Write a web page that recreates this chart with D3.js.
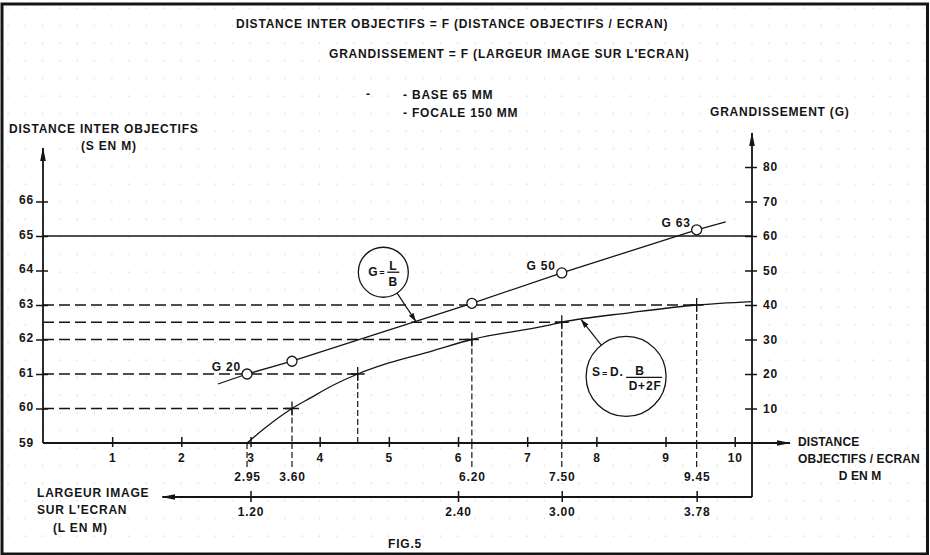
<!DOCTYPE html>
<html>
<head>
<meta charset="utf-8">
<script src="https://cdn.jsdelivr.net/npm/d3@7"></script>
<style>
  body { margin: 0; background: #fff; }
  svg text {
    font-family: "Liberation Sans", Arial, sans-serif;
    font-weight: bold;
    font-size: 12px;
    fill: #151515;
    letter-spacing: 0.8px;
  }
  svg text.tight { letter-spacing: 0.1px; }
</style>
</head>
<body>
<div id="chart"></div>
<script>
// axes
const distanceTicks = [1, 2, 3, 4, 5, 6, 7, 8, 9, 10];
const spacingTicks = [60, 61, 62, 63, 64, 65, 66];
const magnificationTicks = [10, 20, 30, 40, 50, 60, 70, 80];
const widthTicks = [1.20, 2.40, 3.00, 3.78];
const markedDistances = [2.95, 3.60, 6.20, 7.50, 9.45];

// S = f(D)
const spacingCurveD = [2.95, 3.20, 3.60, 3.86, 4.20, 4.55, 5.00, 5.60, 6.20, 7.28, 7.50, 8.50, 9.45, 10.25];
const spacingCurveS = [59.00, 59.42, 60.00, 60.30, 60.68, 61.00, 61.32, 61.65, 62.00, 62.40, 62.50, 62.78, 63.00, 63.10];

// G = f(D), straight line
const magnifLineD = [2.53, 2.95, 3.60, 6.20, 7.50, 9.45, 9.87];
const magnifLineG = [17.1, 20.0, 23.7, 40.5, 49.3, 61.8, 64.1];
const magnifPointD = [2.95, 3.60, 6.20, 7.50, 9.45];
const magnifPointG = [20.0, 23.7, 40.5, 49.3, 61.8];
const magnifPointLabels = ['G 20', '', '', 'G 50', 'G 63'];

// construction lines: S level and where it meets the curve
const guideS = [60, 61, 62, 62.5, 63];
const guideD = [3.60, 4.55, 6.20, 7.50, 9.45];

const width = 930;
const height = 555;

const svg = d3
  .select('#chart')
  .append('svg')
  .attr('width', width)
  .attr('height', height);

const defs = svg.append('defs');

defs.append('marker')
  .attr('id', 'arrow')
  .attr('markerUnits', 'userSpaceOnUse')
  .attr('markerWidth', 14)
  .attr('markerHeight', 8)
  .attr('refX', 13)
  .attr('refY', 4)
  .attr('orient', 'auto')
  .append('path')
  .attr('d', 'M0,1.2 L14,4 L0,6.8 Z')
  .attr('fill', '#151515');

defs.append('marker')
  .attr('id', 'small-arrow')
  .attr('markerUnits', 'userSpaceOnUse')
  .attr('markerWidth', 9)
  .attr('markerHeight', 7)
  .attr('refX', 8.5)
  .attr('refY', 3.5)
  .attr('orient', 'auto')
  .append('path')
  .attr('d', 'M0,0.8 L9,3.5 L0,6.2 Z')
  .attr('fill', '#151515');

// faint graph paper showing through the scan
const paper = defs.append('pattern')
  .attr('id', 'paper')
  .attr('patternUnits', 'userSpaceOnUse')
  .attr('width', 17.3)
  .attr('height', 17.6);
paper.append('circle')
  .attr('cx', 8)
  .attr('cy', 8)
  .attr('r', 0.7)
  .attr('fill', '#cfcfcf');

svg.append('rect')
  .attr('width', width)
  .attr('height', height)
  .attr('fill', '#fff');
svg.append('rect')
  .attr('width', width)
  .attr('height', height)
  .attr('fill', 'url(#paper)');

// frame
svg.append('rect')
  .attr('x', 2)
  .attr('y', 4)
  .attr('width', 925.5)
  .attr('height', 550)
  .attr('fill', 'none')
  .attr('stroke', '#151515')
  .attr('stroke-width', 3);

// scales
const x = d3.scaleLinear().domain([0, 10.25]).range([43, 752]);
const y = d3.scaleLinear().domain([59, 67]).range([443, 167]);
const g = d3.scaleLinear().domain([0, 80]).range([443, 167]);
const l = d3.scaleLinear().domain([0, 10.25 / 2.5]).range([43, 752]);

const ink = '#151515';
const xAxisY = y(59);
const lAxisY = 497;

// Axis lines with arrows
svg.append('line')
  .attr('x1', x(0)).attr('y1', xAxisY)
  .attr('x2', x(0)).attr('y2', 148)
  .attr('stroke', ink).attr('stroke-width', 1.8)
  .attr('marker-end', 'url(#arrow)');

svg.append('line')
  .attr('x1', x(10.25)).attr('y1', lAxisY)
  .attr('x2', x(10.25)).attr('y2', 133)
  .attr('stroke', ink).attr('stroke-width', 1.8)
  .attr('marker-end', 'url(#arrow)');

svg.append('line')
  .attr('x1', x(0)).attr('y1', xAxisY)
  .attr('x2', 790).attr('y2', xAxisY)
  .attr('stroke', ink).attr('stroke-width', 1.8)
  .attr('marker-end', 'url(#arrow)');

svg.append('line')
  .attr('x1', x(10.25)).attr('y1', lAxisY)
  .attr('x2', l(0.69)).attr('y2', lAxisY)
  .attr('stroke', ink).attr('stroke-width', 1.8)
  .attr('marker-end', 'url(#arrow)');

const styleTicks = sel => {
  sel.select('.domain').remove();
  sel.selectAll('line').attr('stroke', ink).attr('stroke-width', 1.5);
  sel.selectAll('text').attr('fill', ink).attr('font-family', null).attr('font-size', null);
};

// Left axis : S
const sAxis = svg.append('g')
  .attr('transform', `translate(${x(0)},0)`)
  .call(d3.axisLeft(y).tickValues(spacingTicks).tickSize(7).tickPadding(2));
styleTicks(sAxis);
sAxis.selectAll('line').attr('x1', 5);
sAxis.selectAll('text').attr('dy', '0.2em');

svg.append('text')
  .attr('x', x(0) - 9)
  .attr('y', xAxisY + 4)
  .attr('text-anchor', 'end')
  .text('59');

// Right axis : G
const gAxis = svg.append('g')
  .attr('transform', `translate(${x(10.25)},0)`)
  .call(d3.axisRight(g).tickValues(magnificationTicks).tickSize(5).tickPadding(6));
styleTicks(gAxis);
gAxis.selectAll('line').attr('x1', -7);

// Bottom axis : D
const dAxis = svg.append('g')
  .attr('transform', `translate(0,${xAxisY})`)
  .call(d3.axisBottom(x).tickValues(distanceTicks).tickSize(4).tickPadding(6));
styleTicks(dAxis);
dAxis.selectAll('line').attr('y1', -6);

const markAxis = svg.append('g')
  .attr('transform', `translate(0,${xAxisY})`)
  .call(d3.axisBottom(x).tickValues(markedDistances).tickFormat(d3.format('.2f')).tickSize(0).tickPadding(29));
styleTicks(markAxis);

// L axis
const lAxis = svg.append('g')
  .attr('transform', `translate(0,${lAxisY})`)
  .call(d3.axisBottom(l).tickValues(widthTicks).tickFormat(d3.format('.2f')).tickSize(5).tickPadding(5));
styleTicks(lAxis);
lAxis.selectAll('line').attr('y1', -6);

// S = 65 line (G = 60)
svg.append('line')
  .attr('x1', x(0)).attr('y1', y(65))
  .attr('x2', x(10.25)).attr('y2', y(65))
  .attr('stroke', ink).attr('stroke-width', 1.4);

// dashed construction lines
guideS.forEach((s, i) => {
  svg.append('line')
    .attr('x1', x(0)).attr('y1', y(s))
    .attr('x2', x(guideD[i])).attr('y2', y(s))
    .attr('stroke', ink).attr('stroke-width', 1.4)
    .attr('stroke-dasharray', '11,5');
  svg.append('line')
    .attr('x1', x(guideD[i])).attr('y1', y(s))
    .attr('x2', x(guideD[i])).attr('y2', xAxisY)
    .attr('stroke', ink).attr('stroke-width', 1.2)
    .attr('stroke-dasharray', '6,3');
  // cross
  svg.append('path')
    .attr('d', `M${x(guideD[i]) - 7},${y(s)}h14M${x(guideD[i])},${y(s) - 7}v14`)
    .attr('stroke', ink).attr('stroke-width', 1.3);
});

markedDistances.forEach(d => {
  svg.append('line')
    .attr('x1', x(d)).attr('y1', xAxisY)
    .attr('x2', x(d)).attr('y2', xAxisY + 24)
    .attr('stroke', ink).attr('stroke-width', 1.2)
    .attr('stroke-dasharray', '6,3');
});

// S curve
const spacingLine = d3.line()
  .x(d => x(d[0]))
  .y(d => y(d[1]))
  .curve(d3.curveMonotoneX);

svg.append('path')
  .datum(d3.zip(spacingCurveD, spacingCurveS))
  .attr('d', spacingLine)
  .attr('fill', 'none')
  .attr('stroke', ink)
  .attr('stroke-width', 1.3);

// G line
const magnifLine = d3.line()
  .x(d => x(d[0]))
  .y(d => g(d[1]));

svg.append('path')
  .datum(d3.zip(magnifLineD, magnifLineG))
  .attr('d', magnifLine)
  .attr('fill', 'none')
  .attr('stroke', ink)
  .attr('stroke-width', 1.3);

svg.selectAll('circle.gpoint')
  .data(d3.zip(magnifPointD, magnifPointG))
  .enter()
  .append('circle')
  .attr('class', 'gpoint')
  .attr('cx', d => x(d[0]))
  .attr('cy', d => g(d[1]))
  .attr('r', 5)
  .attr('fill', '#fff')
  .attr('stroke', ink)
  .attr('stroke-width', 1.3);

svg.selectAll('text.glabel')
  .data(d3.zip(magnifPointD, magnifPointG, magnifPointLabels).filter(d => d[2]))
  .enter()
  .append('text')
  .attr('class', 'glabel')
  .attr('x', d => x(d[0]) - 6)
  .attr('y', d => g(d[1]) - 3)
  .attr('text-anchor', 'end')
  .text(d => d[2]);

// formula bubbles
const gAt = d3.scaleLinear().domain(magnifLineD).range(magnifLineG);
const sAt = d3.scaleLinear().domain(spacingCurveD).range(spacingCurveS);

const bubble = (cxD, cyS, r, targetX, targetY) => {
  const cx = x(cxD);
  const cy = y(cyS);
  const dx = targetX - cx;
  const dy = targetY - cy;
  const len = Math.sqrt(dx * dx + dy * dy);
  svg.append('circle')
    .attr('cx', cx).attr('cy', cy).attr('r', r)
    .attr('fill', 'none').attr('stroke', ink).attr('stroke-width', 1.3);
  svg.append('line')
    .attr('x1', cx + dx / len * r).attr('y1', cy + dy / len * r)
    .attr('x2', targetX).attr('y2', targetY)
    .attr('stroke', ink).attr('stroke-width', 1.2)
    .attr('marker-end', 'url(#small-arrow)');
  return svg.append('g').attr('transform', `translate(${cx},${cy})`);
};

const gNote = bubble(4.92, 63.95, 25, x(5.39), g(gAt(5.39)));
gNote.append('text').attr('x', -15).attr('y', 4).text('G');
gNote.append('text').attr('x', -4).attr('y', 4).style('font-size', '9px').text('=');
gNote.append('text').attr('x', 10).attr('y', -2).attr('text-anchor', 'middle').text('L');
gNote.append('line').attr('x1', 4).attr('x2', 16).attr('y1', 0).attr('y2', 0)
  .attr('stroke', ink).attr('stroke-width', 1.3);
gNote.append('text').attr('x', 10).attr('y', 14).attr('text-anchor', 'middle').text('B');

const sNote = bubble(8.43, 60.93, 40, x(7.78), y(sAt(7.78)));
sNote.append('text').attr('x', -34).attr('y', 0).text('S');
sNote.append('text').attr('x', -24).attr('y', 1).style('font-size', '9px').text('=');
sNote.append('text').attr('x', -16).attr('y', 0).text('D.');
sNote.append('text').attr('x', 14).attr('y', -1).attr('text-anchor', 'middle').text('B');
sNote.append('line').attr('x1', 0).attr('x2', 36).attr('y1', 1).attr('y2', 1)
  .attr('stroke', ink).attr('stroke-width', 1.3);
sNote.append('text').attr('x', 19).attr('y', 14).attr('text-anchor', 'middle').text('D+2F');

// titles and axis names
const label = (tx, ty, str, anchor, cls) => svg.append('text')
  .attr('class', cls || null)
  .attr('x', tx)
  .attr('y', ty)
  .attr('text-anchor', anchor || 'start')
  .text(str);

label(236, 28, 'DISTANCE INTER OBJECTIFS = F (DISTANCE OBJECTIFS / ECRAN)');
label(329, 58, 'GRANDISSEMENT = F (LARGEUR IMAGE SUR L\'ECRAN)');
label(366, 98, '-');
label(403, 99, '- BASE 65 MM');
label(403, 117, '- FOCALE 150 MM');
label(9, 133, 'DISTANCE INTER OBJECTIFS');
label(81, 150, '(S EN M)');
label(710, 116, 'GRANDISSEMENT (G)');
label(798, 446, 'DISTANCE', 'start', 'tight');
label(798, 463, 'OBJECTIFS / ECRAN', 'start', 'tight');
label(860, 480, 'D EN M', 'middle', 'tight');
label(37, 497, 'LARGEUR IMAGE');
label(37, 514, 'SUR L\'ECRAN');
label(53, 532, '(L EN M)');
label(388, 548, 'FIG.5');
</script>
</body>
</html>
